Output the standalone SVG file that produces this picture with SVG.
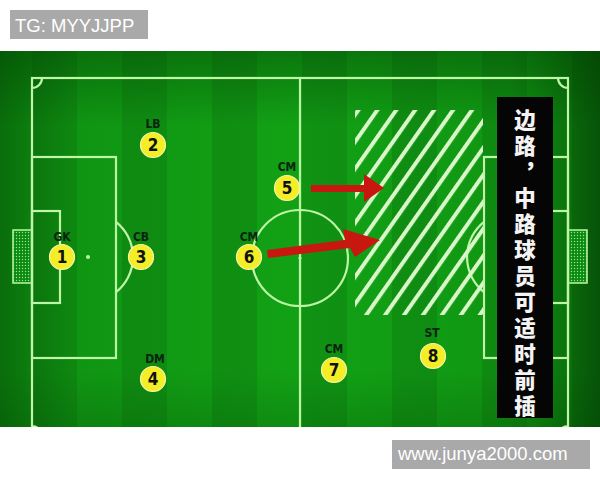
<svg xmlns="http://www.w3.org/2000/svg" width="600" height="480" viewBox="0 0 600 480">
  <defs>
    <style>
      .ln{fill:none;stroke:#bdf6a4;stroke-width:2.2}
      .pl{fill:#f4ee26;stroke:#fbf7a8;stroke-width:1.2}
      .num{font-family:"DejaVu Sans Condensed","Liberation Sans Narrow","Liberation Sans",sans-serif;font-weight:bold;font-size:17px;fill:#111;text-anchor:middle}
      .pos{font-family:"DejaVu Sans Condensed","Liberation Sans Narrow","Liberation Sans",sans-serif;font-weight:bold;font-size:12px;fill:#0a2410;text-anchor:middle}
      .cn{font-family:"Noto Sans CJK SC",sans-serif;font-weight:900;font-size:21.5px;fill:#f4f4f4;writing-mode:vertical-rl;letter-spacing:4.5px}
      .tag{font-family:"Liberation Sans",Arial,sans-serif;font-size:18.5px;fill:#ffffff}
      .arr{fill:#c8170f}
    </style>
    <pattern id="stripes" x="32" y="0" width="90" height="480" patternUnits="userSpaceOnUse">
      <rect x="0" y="0" width="45" height="480" fill="#000" fill-opacity="0.09"/>
    </pattern>
    <linearGradient id="hvig" x1="0" y1="0" x2="1" y2="0">
      <stop offset="0" stop-color="#003a00" stop-opacity="0.5"/>
      <stop offset="0.12" stop-color="#003a00" stop-opacity="0.12"/>
      <stop offset="0.5" stop-color="#003a00" stop-opacity="0"/>
      <stop offset="0.85" stop-color="#003a00" stop-opacity="0.1"/>
      <stop offset="1" stop-color="#002a00" stop-opacity="0.6"/>
    </linearGradient>
    <linearGradient id="vvig" x1="0" y1="0" x2="0" y2="1">
      <stop offset="0" stop-color="#003a00" stop-opacity="0.4"/>
      <stop offset="0.2" stop-color="#003a00" stop-opacity="0"/>
      <stop offset="0.85" stop-color="#003a00" stop-opacity="0"/>
      <stop offset="1" stop-color="#003a00" stop-opacity="0.2"/>
    </linearGradient>
    <pattern id="hatch" width="15.5" height="20" patternUnits="userSpaceOnUse" patternTransform="translate(356 110) rotate(35)">
      <rect x="0" y="0" width="4" height="20" fill="#d8f6c8"/>
    </pattern>
    <pattern id="net" width="3" height="3" patternUnits="userSpaceOnUse">
      <rect width="3" height="3" fill="#0a8a12"/>
      <circle cx="1.5" cy="1.5" r="0.7" fill="#9fe58a"/>
    </pattern>
    <clipPath id="pitch"><rect x="0" y="51" width="600" height="376"/></clipPath>
  </defs>

  <rect x="0" y="0" width="600" height="480" fill="#ffffff"/>

  <!-- pitch background -->
  <g id="pitch-bg">
    <rect x="0" y="51" width="600" height="376" fill="#12a115"/>
    <rect x="0" y="51" width="600" height="376" fill="url(#stripes)"/>
    <rect x="0" y="51" width="600" height="376" fill="url(#hvig)"/>
    <rect x="0" y="51" width="600" height="376" fill="url(#vvig)"/>
  </g>

  <!-- pitch markings -->
  <g id="markings" clip-path="url(#pitch)">
    <rect x="13" y="230" width="19" height="53" fill="url(#net)" stroke="#bdf6a4" stroke-width="1.5"/>
    <rect x="568" y="230" width="19" height="53" fill="url(#net)" stroke="#bdf6a4" stroke-width="1.5"/>
    <rect class="ln" x="32" y="78" width="536" height="358"/>
    <line class="ln" x1="300" y1="78" x2="300" y2="436"/>
    <circle class="ln" cx="300" cy="258" r="48"/>
    <circle cx="300" cy="258" r="1.6" fill="#bdf6a4"/>
    <rect class="ln" x="32" y="157" width="84" height="201"/>
    <rect class="ln" x="32" y="211" width="28" height="92"/>
    <circle cx="88" cy="257" r="2" fill="#bdf6a4"/>
    <path class="ln" d="M116,221.8 A45,45 0 0 1 116,292.2"/>
    <rect class="ln" x="484" y="157" width="84" height="201"/>
    <rect class="ln" x="540" y="211" width="28" height="92"/>
    <circle cx="512" cy="257" r="2" fill="#bdf6a4"/>
    <path class="ln" d="M484,221.8 A45,45 0 0 0 484,292.2"/>
    <path class="ln" d="M32,88 A10,10 0 0 0 42,78"/>
    <path class="ln" d="M558,78 A10,10 0 0 0 568,88"/>
    <path class="ln" d="M32,426 A10,10 0 0 1 42,436"/>
    <path class="ln" d="M558,436 A10,10 0 0 1 568,426"/>
  </g>

  <!-- hatched zone -->
  <g id="zone">
    <rect x="355" y="110" width="128" height="205" fill="url(#hatch)"/>
  </g>

  <!-- connectors / arrows -->
  <g id="connectors">
    <polygon class="arr" points="311,185 364,185 364,174 384,188 364,202 364,192 311,192"/>
    <polygon class="arr" points="267,250 345,240 343,229 380,240 355,257 350,248 268,258"/>
  </g>

  <!-- players -->
  <g id="p1"><text class="pos" x="62" y="241">GK</text><circle class="pl" cx="62" cy="257" r="12.5"/><text class="num" x="62" y="263">1</text></g>
  <g id="p2"><text class="pos" x="153" y="128">LB</text><circle class="pl" cx="153" cy="145" r="12.5"/><text class="num" x="153" y="151">2</text></g>
  <g id="p3"><text class="pos" x="141" y="241">CB</text><circle class="pl" cx="141" cy="257" r="12.5"/><text class="num" x="141" y="263">3</text></g>
  <g id="p4"><text class="pos" x="155" y="363">DM</text><circle class="pl" cx="153" cy="379" r="12.5"/><text class="num" x="153" y="385">4</text></g>
  <g id="p5"><text class="pos" x="287" y="171">CM</text><circle class="pl" cx="287" cy="188" r="12.5"/><text class="num" x="287" y="194">5</text></g>
  <g id="p6"><text class="pos" x="249" y="241">CM</text><circle class="pl" cx="249" cy="257" r="12.5"/><text class="num" x="249" y="263">6</text></g>
  <g id="p7"><text class="pos" x="334" y="353">CM</text><circle class="pl" cx="334" cy="370" r="12.5"/><text class="num" x="334" y="376">7</text></g>
  <g id="p8"><text class="pos" x="432" y="337">ST</text><circle class="pl" cx="433" cy="356" r="12.5"/><text class="num" x="433" y="362">8</text></g>

  <!-- caption box -->
  <g id="caption">
    <rect x="497" y="97" width="56" height="321" fill="#050505"/>
    <text class="cn" x="525" y="109">边路，中路球员可适时前插</text>
  </g>

  <!-- watermarks -->
  <g id="tag-top">
    <rect x="10" y="10" width="138" height="29" fill="#a9a9a9"/>
    <text class="tag" x="15" y="32">TG: MYYJJPP</text>
  </g>
  <g id="tag-bottom">
    <rect x="392" y="440" width="198" height="29" fill="#a9a9a9"/>
    <text class="tag" x="398" y="460">www.junya2000.com</text>
  </g>
</svg>
